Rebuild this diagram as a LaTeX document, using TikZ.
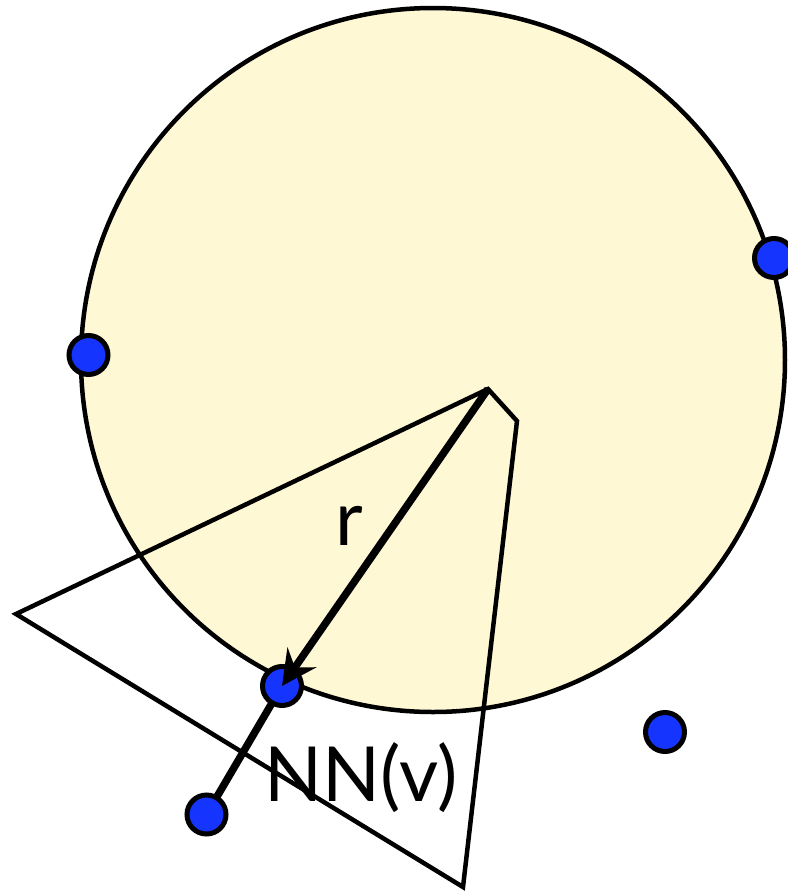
\documentclass[tikz,border=0pt]{standalone}
\usepackage{fontspec}
\setmainfont{Lato}
\usetikzlibrary{arrows.meta}
\definecolor{discfill}{HTML}{FFF8D5}
\definecolor{dotblue}{HTML}{1535FF}
\tikzset{
  outline/.style={draw=black, line width=4.5*0.75pt, line join=miter},
  thickline/.style={draw=black, line width=7.5*0.75pt},
  ptdot/.style={circle, draw=black, fill=dotblue, line width=5*0.75pt, minimum size=39*0.75pt, inner sep=0pt},
  lbl/.style={font=\fontsize{57}{64}\selectfont, inner sep=0pt, anchor=base}
}
\begin{document}
\begin{tikzpicture}[x=0.75pt, y=-0.75pt]
\useasboundingbox (0,0) rectangle (788,894);
% disc
\draw[outline, fill=discfill] (433,360) circle[radius=352];
% polygon (cone)
\coordinate (apex) at (488,389);
\coordinate (cr) at (517,421);
\coordinate (cb) at (463,887);
\coordinate (cl) at (16,614);
\draw[outline] (apex) -- (cl) -- (cb) -- (cr) -- cycle;
% dots positions
\coordinate (pA) at (88.5,355);
\coordinate (pB) at (774,258);
\coordinate (pC) at (282,686);
\coordinate (pD) at (665,732);
\coordinate (pE) at (206.5,814.5);
% segment to lower dot (under the dots)
\draw[thickline] (pC) -- (pE);
% dots
\node[ptdot] (dA) at (pA) {};
\node[ptdot] (dB) at (pB) {};
\node[ptdot] (dC) at (pC) {};
\node[ptdot] (dD) at (pD) {};
\node[ptdot] (dE) at (pE) {};
% radius arrow
\draw[thickline, -{Stealth[length=26pt, width=26pt, inset=9pt]}] (apex) -- (dC.center);
% labels
\node[lbl] (lr) at (349,545) {r};
\node[lbl] (lnn) at (361,801) {NN(v)};
\end{tikzpicture}
\end{document}
